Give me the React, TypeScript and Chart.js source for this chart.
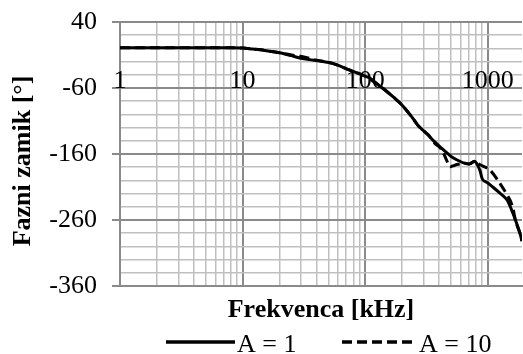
import React, { useEffect, useRef } from 'react';
import { Chart, registerables } from 'chart.js';

Chart.register(...registerables);

// Series A = 1 (solid)
const freqA1 = [1, 2, 5, 8, 10, 12, 15, 20, 25, 30, 35, 43, 55, 75, 100, 109, 125, 145, 174, 200, 231, 254, 270, 300, 326, 356, 419, 462, 505, 590, 648, 712, 782, 859, 908, 1000, 1097, 1250, 1426, 1596, 1820, 1900];
const phaseA1 = [1, 1, 1, 1, 0.5, -1, -3, -6.5, -11, -15, -17, -19, -23, -33, -42, -45, -54, -63, -75.5, -86, -100, -110, -117, -125, -131, -139, -151, -158, -164, -171, -174, -175, -171, -184, -199, -204, -210, -219, -229, -249, -279, -292];

// Series A = 10 (dashed)
const freqA10 = [1, 2, 5, 8, 10, 12, 15, 20, 25, 28, 31, 35, 40, 46, 55, 75, 100, 125, 145, 174, 200, 231, 270, 300, 326, 369, 419, 460, 489, 520, 558, 648, 712, 782, 859, 1036, 1250, 1508, 1596, 1687, 1820, 1900];
const phaseA10 = [1, 1, 1, 1, 0.5, -1, -3, -6.5, -10, -11.5, -12.5, -15, -18, -20, -23, -33, -42, -54, -63, -75.5, -86, -100, -117, -125, -131, -143.5, -153, -169, -179, -178, -176, -174, -175, -171, -176, -184, -204, -229, -241, -262, -279, -292];

const seriesLabels = ['A = 1', 'A = 10'];
const xTickValues = [1, 10, 100, 1000];
const xTickLabels = ['1', '10', '100', '1000'];
const yMajorTicks = [40, -60, -160, -260, -360];
const xTitle = 'Frekvenca [kHz]';
const yTitle = 'Fazni zamik [°]';

const FONT = '"Liberation Serif", "Times New Roman", serif';
const MAJOR = '#8a8a8a';
const MINOR = '#bfbfbf';

function buildXTicks(): number[] {
  const out: number[] = [];
  for (let p = 1; p <= 1000; p *= 10) {
    for (let m = 1; m <= 9; m++) {
      const v = m * p;
      if (v <= 1900) out.push(v);
    }
  }
  return out;
}

const isMajorY = (v: number) => yMajorTicks.includes(v);
const isMajorX = (v: number) => xTickValues.includes(v);

const textPlugin = {
  id: 'customText',
  beforeDatasetsDraw(chart: any) {
    const ctx = chart.ctx;
    const xs = chart.scales.x;
    const ys = chart.scales.y;
    ctx.save();
    ctx.fillStyle = '#000';
    ctx.font = `26px ${FONT}`;
    ctx.textAlign = 'center';
    ctx.textBaseline = 'alphabetic';
    const yl = ys.getPixelForValue(-60);
    xTickValues.forEach((v, i) => {
      ctx.fillText(xTickLabels[i], xs.getPixelForValue(v), yl);
    });
    ctx.restore();
  },
  afterDraw(chart: any) {
    const ctx = chart.ctx;
    ctx.save();
    ctx.fillStyle = '#000';
    ctx.font = `bold 26px ${FONT}`;
    ctx.textAlign = 'center';
    ctx.textBaseline = 'middle';
    ctx.translate(23, 161);
    ctx.rotate(-Math.PI / 2);
    ctx.fillText(yTitle, 0, 0);
    ctx.restore();

    ctx.save();
    ctx.fillStyle = '#000';
    ctx.font = `bold 26px ${FONT}`;
    ctx.textAlign = 'center';
    ctx.textBaseline = 'alphabetic';
    ctx.fillText(xTitle, 321, 317);

    ctx.font = `26px ${FONT}`;
    ctx.textAlign = 'left';
    ctx.strokeStyle = '#000';
    ctx.lineWidth = 3.5;
    ctx.lineCap = 'butt';
    ctx.beginPath();
    ctx.setLineDash([]);
    ctx.moveTo(166, 342);
    ctx.lineTo(235, 342);
    ctx.stroke();
    ctx.fillText(seriesLabels[0], 237, 352);

    ctx.beginPath();
    ctx.setLineDash([10, 5]);
    ctx.moveTo(342, 342);
    ctx.lineTo(412, 342);
    ctx.stroke();
    ctx.setLineDash([]);
    ctx.fillText(seriesLabels[1], 419, 352);
    ctx.restore();
  },
};

export default function App() {
  const ref = useRef<HTMLCanvasElement | null>(null);

  useEffect(() => {
    if (!ref.current) return;
    const xTicks = buildXTicks();
    const chart = new Chart(ref.current, {
      type: 'line',
      data: {
        datasets: [
          {
            label: seriesLabels[0],
            data: freqA1.map((f, i) => ({ x: f, y: phaseA1[i] })),
            borderColor: '#000',
            borderWidth: 3,
            pointRadius: 0,
            tension: 0.3,
            fill: false,
          },
          {
            label: seriesLabels[1],
            data: freqA10.map((f, i) => ({ x: f, y: phaseA10[i] })),
            borderColor: '#000',
            borderWidth: 3,
            borderDash: [10, 5],
            pointRadius: 0,
            tension: 0.3,
            fill: false,
          },
        ],
      },
      options: {
        animation: false,
        responsive: false,
        devicePixelRatio: 1,
        layout: { padding: { left: 0, top: 22, right: 1, bottom: 68 } },
        plugins: {
          legend: { display: false },
          tooltip: { enabled: false },
        },
        scales: {
          x: {
            type: 'logarithmic',
            min: 1,
            max: 1900,
            afterBuildTicks: (scale: any) => {
              scale.ticks = xTicks.map((v) => ({ value: v }));
            },
            afterFit: (scale: any) => {
              scale.paddingLeft = 0;
              scale.paddingRight = 0;
            },
            ticks: { display: false },
            grid: {
              drawTicks: false,
              color: (c: any) => (isMajorX(c.tick?.value) ? MAJOR : MINOR),
              lineWidth: (c: any) => (isMajorX(c.tick?.value) ? 2 : 1.5),
            },
            border: { display: true, color: MAJOR, width: 2 },
          },
          y: {
            type: 'linear',
            min: -360,
            max: 40,
            afterFit: (scale: any) => {
              scale.width = 120;
              scale.paddingTop = 0;
              scale.paddingBottom = 0;
            },
            ticks: {
              stepSize: 20,
              autoSkip: false,
              padding: 15,
              color: '#000',
              font: { family: 'Liberation Serif', size: 26 },
              callback: (v: any) => (isMajorY(Number(v)) ? String(v) : ''),
            },
            grid: {
              drawTicks: true,
              tickLength: 8,
              color: (c: any) => (isMajorY(c.tick?.value) ? MAJOR : MINOR),
              tickColor: (c: any) => (isMajorY(c.tick?.value) ? MAJOR : 'rgba(0,0,0,0)'),
              lineWidth: (c: any) => (isMajorY(c.tick?.value) ? 2 : 1.5),
            },
            border: { display: true, color: MAJOR, width: 2 },
          },
        },
      },
      plugins: [textPlugin],
    } as any);
    return () => chart.destroy();
  }, []);

  return (
    <div style={{ position: 'absolute', left: 0, top: 0, width: 523, height: 354, background: '#fff' }}>
      <canvas ref={ref} width={523} height={354} style={{ display: 'block' }} />
    </div>
  );
}
